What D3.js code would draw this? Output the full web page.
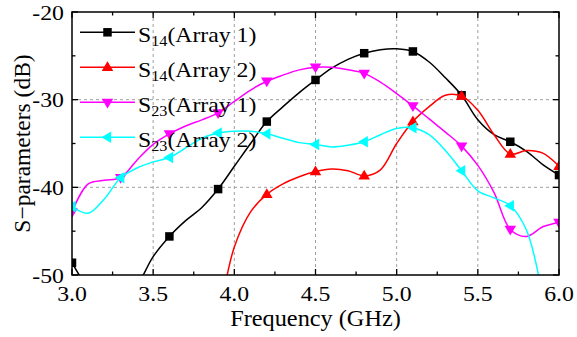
<!DOCTYPE html>
<html><head><meta charset="utf-8">
<script src="https://cdn.jsdelivr.net/npm/d3@7"></script>
<style>body{margin:0;background:#fff} text{font-family:'Liberation Serif','Times New Roman',serif;}</style>
</head><body><svg id="c" width="577" height="337"></svg>
<script>
const freq = [3.0,3.1,3.2,3.3,3.4,3.5,3.6,3.7,3.8,3.9,4.0,4.1,4.2,4.3,4.4,4.5,4.6,4.7,4.8,4.9,5.0,5.1,5.2,5.3,5.4,5.5,5.6,5.7,5.8,5.9,6.0];
const s14a1 = [-48.6,-51.5,-53.2,-53.0,-51.2,-47.9,-45.6,-43.8,-42.3,-40.2,-37.6,-35.0,-32.5,-30.8,-29.2,-27.75,-26.4,-25.4,-24.7,-24.3,-24.2,-24.5,-25.7,-27.5,-29.5,-32.3,-34.0,-34.8,-35.9,-37.4,-38.6];
const s14a2 = [null,null,null,null,null,null,null,-64.0,-59.5,-54.5,-46.8,-42.8,-40.8,-39.6,-38.8,-38.2,-37.9,-38.1,-38.7,-38.0,-35.0,-32.5,-30.8,-29.5,-29.6,-31.2,-34.0,-36.2,-35.8,-36.1,-37.6];
const s23a1 = [-42.8,-39.6,-39.2,-38.9,-36.9,-35.1,-33.9,-33.0,-32.3,-31.5,-30.2,-28.9,-27.9,-27.2,-26.6,-26.3,-26.3,-26.6,-27.0,-28.0,-29.3,-30.7,-32.2,-33.7,-35.3,-37.5,-40.6,-44.8,-45.6,-44.5,-44.0];
const s23a2 = [-42.2,-42.95,-41.3,-38.9,-37.8,-37.1,-36.6,-35.5,-34.4,-33.8,-33.6,-33.6,-33.9,-34.4,-34.9,-35.1,-35.4,-35.2,-34.8,-34.0,-33.3,-33.2,-34.0,-35.8,-38.1,-40.4,-41.2,-42.1,-44.9,-52.5,-65.0];
const seriesSub = ["14","14","23","23"];
const seriesName = ["(Array 1)","(Array 2)","(Array 1)","(Array 2)"];
const seriesColor = ["#000000","#ff0000","#ff00ff","#00ffff"];
const seriesMarker = ["square","up","down","left"];
const xTicks = [3.0,3.5,4.0,4.5,5.0,5.5,6.0];
const yTicks = [-50,-40,-30,-20];
const xMinor = [3.25,3.75,4.25,4.75,5.25,5.75];
const yMinor = [-45,-35,-25];

const allSeries = [s14a1,s14a2,s23a1,s23a2];
const svg = d3.select("#c");
const L=72,R=559,T=12,B=275;
const x = d3.scaleLinear().domain([3,6]).range([L,R]);
const y = d3.scaleLinear().domain([-50,-20]).range([B,T]);
const FONT = "'Liberation Serif','Times New Roman',serif";
const SX = 1.08;

svg.append("defs").append("clipPath").attr("id","clip")
  .append("rect").attr("x",L).attr("y",T).attr("width",R-L).attr("height",B-T);

// grid
const g = svg.append("g");
g.selectAll(".gx").data(xTicks.slice(1,-1)).join("line")
  .attr("x1",d=>x(d)).attr("x2",d=>x(d)).attr("y1",T).attr("y2",B)
  .attr("stroke","#a0a0a0").attr("stroke-width",1).attr("stroke-dasharray","3,3");
g.selectAll(".gy").data(yTicks.slice(1,-1)).join("line")
  .attr("y1",d=>y(d)).attr("y2",d=>y(d)).attr("x1",L).attr("x2",R)
  .attr("stroke","#a0a0a0").attr("stroke-width",1).attr("stroke-dasharray","3,3");

// ticks (inward) on all four sides
const tk = svg.append("g").attr("stroke","#000").attr("stroke-width",1.3);
const tickLen = v=>v?6:3.5;
const xt = xTicks.map(v=>[v,true]).concat(xMinor.map(v=>[v,false]));
const yt = yTicks.map(v=>[v,true]).concat(yMinor.map(v=>[v,false]));
xt.forEach(([v,m])=>{
  tk.append("line").attr("x1",x(v)).attr("x2",x(v)).attr("y1",B).attr("y2",B-tickLen(m));
  tk.append("line").attr("x1",x(v)).attr("x2",x(v)).attr("y1",T).attr("y2",T+tickLen(m));
});
yt.forEach(([v,m])=>{
  tk.append("line").attr("y1",y(v)).attr("y2",y(v)).attr("x1",L).attr("x2",L+tickLen(m));
  tk.append("line").attr("y1",y(v)).attr("y2",y(v)).attr("x1",R).attr("x2",R-tickLen(m));
});

// curves
const plot = svg.append("g").attr("clip-path","url(#clip)");
const line = d3.line().defined(d=>d[1]!==null).x(d=>x(d[0])).y(d=>y(d[1])).curve(d3.curveCatmullRom.alpha(0.5));
function markerPath(type, s){
  if(type==="square") return `M${-s/2},${-s/2}h${s}v${s}h${-s}Z`;
  const r=s*0.62;
  if(type==="up") return `M0,${-r}L${r*0.95},${r*0.6}L${-r*0.95},${r*0.6}Z`;
  if(type==="down") return `M0,${r}L${r*0.95},${-r*0.6}L${-r*0.95},${-r*0.6}Z`;
  if(type==="left") return `M${-r},0L${r*0.6},${-r*0.95}L${r*0.6},${r*0.95}Z`;
}
const mSize = t => t==="square"?8.5:9.8;
allSeries.forEach((vals,k)=>{
  const pts = freq.map((f,i)=>[f,vals[i]]);
  plot.append("path").attr("d",line(pts)).attr("fill","none")
    .attr("stroke",seriesColor[k]).attr("stroke-width",1.5);
  const mk = pts.filter((p,i)=>i%3===0 && p[1]!==null);
  plot.selectAll(null).data(mk).join("path")
    .attr("transform",d=>`translate(${x(d[0])},${y(d[1])})`)
    .attr("d",markerPath(seriesMarker[k], mSize(seriesMarker[k])))
    .attr("fill",seriesColor[k]);
});

// frame
svg.append("rect").attr("x",L).attr("y",T).attr("width",R-L).attr("height",B-T)
  .attr("fill","none").attr("stroke","#000").attr("stroke-width",1.5);

// tick labels
xTicks.forEach(v=>{
  svg.append("text").attr("transform",`translate(${x(v)},301) scale(${SX},1)`)
    .attr("text-anchor","middle").style("font-family",FONT).style("font-size","22px")
    .text(d3.format(".1f")(v));
});
yTicks.forEach(v=>{
  svg.append("text").attr("transform",`translate(64,${y(v)+7.5}) scale(${SX},1)`)
    .attr("text-anchor","end").style("font-family",FONT).style("font-size","22px")
    .text(String(v));
});

// axis titles
svg.append("text").attr("transform",`translate(${(L+R)/2},326) scale(${SX},1)`)
  .attr("text-anchor","middle").style("font-family",FONT).style("font-size","22.5px")
  .text("Frequency (GHz)");
svg.append("text").attr("transform",`translate(30,${(T+B)/2}) rotate(-90)`)
  .attr("text-anchor","middle").style("font-family",FONT).style("font-size","23.5px")
  .text("S\u2212parameters (dB)");

// legend
const legY = [32.3,67.3,102.3,137.3];
allSeries.forEach((vals,k)=>{
  const ly = legY[k];
  svg.append("line").attr("x1",80).attr("x2",135).attr("y1",ly).attr("y2",ly)
    .attr("stroke",seriesColor[k]).attr("stroke-width",1.5);
  svg.append("path").attr("transform",`translate(107.5,${ly})`)
    .attr("d",markerPath(seriesMarker[k], mSize(seriesMarker[k])))
    .attr("fill",seriesColor[k]);
  const t = svg.append("text").attr("transform",`translate(138,${ly+10}) scale(${SX},1)`)
    .style("font-family",FONT).style("font-size","22px");
  t.append("tspan").text("S");
  t.append("tspan").style("font-size","15px").attr("dy",4).text(seriesSub[k]);
  t.append("tspan").attr("dy",-4).text(seriesName[k]);
});
</script></body></html>
